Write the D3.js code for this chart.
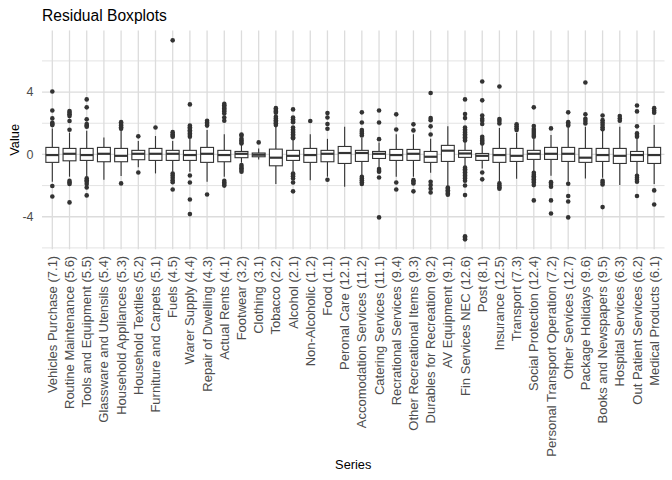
<!DOCTYPE html>
<html>
<head>
<meta charset="utf-8">
<script src="https://cdn.jsdelivr.net/npm/d3@7"></script>
<style>
  body { margin: 0; background: #fff; }
  svg { display: block; font-family: Arial, "Liberation Sans", sans-serif; }
</style>
</head>
<body>
<svg id="chart" width="672" height="480"></svg>
<script>
// series names (x axis)
const series = [
  "Vehicles Purchase (7.1)", "Routine Maintenance (5.6)", "Tools and Equipment (5.5)",
  "Glassware and Utensils (5.4)", "Household Appliances (5.3)", "Household Textiles (5.2)",
  "Furniture and Carpets (5.1)", "Fuels (4.5)", "Warer Supply (4.4)", "Repair of Dwelling (4.3)",
  "Actual Rents (4.1)", "Footwear (3.2)", "Clothing (3.1)", "Tobacco (2.2)", "Alcohol (2.1)",
  "Non-Alcoholic (1.2)", "Food (1.1)", "Peronal Care (12.1)", "Accomodation Services (11.2)",
  "Catering Services (11.1)", "Recrational Services (9.4)", "Other Recreational Items (9.3)",
  "Durables for Recreation (9.2)", "AV Equipment (9.1)", "Fin Services NEC (12.6)", "Post (8.1)",
  "Insurance (12.5)", "Transport (7.3)", "Social Protection (12.4)",
  "Personal Transport Operation (7.2)", "Other Services (12.7)", "Package Holidays (9.6)",
  "Books and Newspapers (9.5)", "Hospital Services (6.3)", "Out Patient Services (6.2)",
  "Medical Products (6.1)"
];

// box statistics, one value per series
const whiskerLow = [-1.75, -1.43, -1.43, -1.63, -1.39, -0.83, -1.22, -1.11, -1.11, -1.75,
  -1.43, -0.53, -0.32, -1.9, -1.11, -1.65, -1.43, -2.07, -1.37, -0.83, -1.43, -1.43,
  -1.18, -2.07, -0.79, -0.9, -1.82, -1.56, -1.11, -1.37, -1.75, -1.54, -1.5, -1.97, -1.26, -1.9];
const q1 = [-0.51, -0.41, -0.385, -0.47, -0.47, -0.34, -0.385, -0.385, -0.385, -0.51,
  -0.47, -0.21, -0.15, -0.73, -0.385, -0.51, -0.47, -0.58, -0.45, -0.26, -0.385, -0.385,
  -0.51, -0.45, -0.19, -0.385, -0.51, -0.45, -0.32, -0.32, -0.45, -0.51, -0.45, -0.58, -0.45, -0.58];
const median = [-0.04, 0.04, -0.04, 0.04, -0.09, 0.04, 0.04, 0.04, -0.04, 0.04,
  -0.04, 0.04, -0.02, -0.21, -0.09, -0.04, 0.04, 0.09, 0.09, 0.04, -0.04, 0.04,
  -0.15, 0.24, 0.06, -0.09, -0.04, -0.09, 0.04, 0.04, 0.04, -0.21, -0.04, -0.09, -0.04, -0.04];
const q3 = [0.45, 0.385, 0.385, 0.45, 0.385, 0.26, 0.385, 0.26, 0.26, 0.45,
  0.26, 0.19, 0.09, 0.34, 0.26, 0.385, 0.26, 0.51, 0.26, 0.19, 0.32, 0.32,
  0.19, 0.58, 0.26, 0.06, 0.385, 0.385, 0.26, 0.45, 0.45, 0.385, 0.385, 0.385, 0.19, 0.45];
const whiskerHigh = [1.67, 1.4, 1.52, 1.09, 1.56, 0.86, 1.18, 0.86, 1.0, 1.56,
  1.3, 0.64, 0.38, 1.78, 1.0, 1.3, 1.0, 1.78, 1.05, 0.77, 1.3, 1.3,
  1.0, 1.8, 0.81, 0.6, 1.69, 1.37, 1.0, 1.24, 1.71, 1.78, 1.52, 1.78, 1.03, 1.88];

// outliers per series
const outliers = [
  [4.04, 2.82, 2.31, 2.03, 1.95, 1.88, -2.03, -2.7],
  [2.78, 2.68, 2.58, 2.46, 2.14, 1.58, -1.7, -1.8, -1.9, -3.08],
  [3.53, 3.02, 2.25, 1.95, 1.85, 1.78, -1.54, -1.65, -1.75, -1.9, -2.12, -2.63],
  [],
  [2.07, 1.95, 1.85, 1.75, 1.65, -1.86],
  [1.16, -1.16],
  [1.73],
  [7.32, 1.43, 1.3, 1.2, 1.13, -1.22, -1.35, -1.5, -1.65, -1.78, -2.25],
  [3.21, 1.86, 1.75, 1.65, 1.55, 1.45, 1.35, 1.25, 1.13, -1.35, -1.8, -2.89, -3.83],
  [2.16, 2.05, 1.95, 1.85, -2.57],
  [3.25, 3.15, 3.05, 2.95, 2.85, 2.75, 2.63, 2.37, 2.16, -1.69, -1.8, -1.9, -2.0],
  [1.28, 1.2, 1.0, 0.9, 0.8, 0.7, -0.68, -0.8, -0.9, -1.0, -1.11],
  [0.77],
  [2.97, 2.85, 2.75, 2.67, 2.42, 2.3, 2.2, 2.1, 2.0, 1.88],
  [2.89, 2.37, 2.25, 2.15, 2.07, 1.73, 1.6, 1.5, 1.4, 1.3, 1.2, 1.1, 1.04, -1.22, -1.3, -1.4, -1.54, -1.8, -2.37],
  [2.14],
  [2.65, 2.37, 1.95, 1.65, -1.63],
  [],
  [2.7, 2.05, 1.56, 1.45, 1.35, 1.22, -1.43, -1.55, -1.65, -1.78, -1.9],
  [2.82, 2.05, 0.98, -0.94, -1.05, -1.11, -1.48, -4.04],
  [2.57, 1.6, -1.8, -2.25],
  [1.93, 1.54, -1.65, -1.75, -1.86, -2.37],
  [3.94, 2.33, 2.2, 1.8, 1.28, -1.75, -1.97, -2.2, -2.44],
  [-2.12, -2.2, -2.3, -2.4, -2.5, -2.59],
  [3.53, 2.59, 2.33, 1.73, 1.6, 1.5, 1.4, 1.3, 1.2, 1.1, 1.0, 0.9, -0.85, -0.95, -1.05, -1.15,
   -1.25, -1.35, -1.45, -1.55, -1.69, -1.99, -2.61, -5.25, -5.35, -5.45],
  [4.68, 3.47, 2.5, 2.29, 2.16, 1.95, 1.13, 1.0, 0.9, 0.8, 0.7, -1.16, -1.6],
  [4.36, 2.27, 2.15, 1.99, -1.86, -2.0, -2.1, -2.2],
  [1.93, 1.8, 1.68, 1.56],
  [3.02, 1.82, 1.63, 1.5, 1.38, 1.25, 1.13, -1.18, -1.3, -1.4, -1.5, -1.6, -1.7, -1.8, -1.97, -2.95],
  [1.67, -1.78, -1.9, -2.07, -2.95, -3.79],
  [2.7, 2.07, 1.95, 1.85, -1.88, -2.67, -3.02, -4.04],
  [4.62, 2.57, 2.29, 2.15, 1.99],
  [2.5, 2.2, 2.05, 1.9, 1.75, 1.62, -1.69, -1.8, -1.93, -3.38],
  [2.46, 2.3, 2.16],
  [3.14, 2.76, 1.8, 1.35, 1.25, 1.13, -1.37, -1.5, -1.62, -1.75, -2.67],
  [2.97, 2.8, 2.67, -2.31, -3.21]
];

const yTicks = [-4, 0, 4];
const yMinor = [-6, -2, 2, 6];

// 画布
const svg = d3.select("#chart");
const W = 672, H = 480;
const margin = { top: 30.4, right: 7.5, bottom: 230.7, left: 42 };
const pw = W - margin.left - margin.right;
const ph = H - margin.top - margin.bottom;

// boxes from arrays
const boxes = series.map((s, i) => ({
  name: s, lo: whiskerLow[i], q1: q1[i], med: median[i], q3: q3[i], hi: whiskerHigh[i], out: outliers[i]
}));

// y extent with ggplot-like 5% padding
const allVals = d3.merge(boxes.map(b => [b.lo, b.hi].concat(b.out)));
const ext = d3.extent(allVals);
const pad = (ext[1] - ext[0]) * 0.05;
const y = d3.scaleLinear().domain([ext[0] - pad, ext[1] + pad]).range([ph, 0]);

// discrete x, 0.6 band expansion each side
const x = d3.scalePoint().domain(series).range([0, pw]).padding(0.6);
const step = x.step();
const bw = step * 0.75;

const g = svg.append("g").attr("transform", `translate(${margin.left},${margin.top})`);

// grid
g.selectAll(".minor").data(yMinor).join("line")
  .attr("x1", 0).attr("x2", pw)
  .attr("y1", d => y(d)).attr("y2", d => y(d))
  .attr("stroke", "#e3e3e3").attr("stroke-width", 1);
g.selectAll(".major").data(yTicks).join("line")
  .attr("x1", 0).attr("x2", pw)
  .attr("y1", d => y(d)).attr("y2", d => y(d))
  .attr("stroke", "#dcdcdc").attr("stroke-width", 1.3);
g.selectAll(".vgrid").data(series).join("line")
  .attr("x1", d => x(d)).attr("x2", d => x(d))
  .attr("y1", 0).attr("y2", ph)
  .attr("stroke", "#dcdcdc").attr("stroke-width", 1.3);

// 箱线图
const col = "#333333";
const bx = g.selectAll(".box").data(boxes).join("g")
  .attr("transform", d => `translate(${x(d.name)},0)`);

bx.append("line")
  .attr("y1", d => y(d.q3)).attr("y2", d => y(d.hi))
  .attr("stroke", col).attr("stroke-width", 1.1);
bx.append("line")
  .attr("y1", d => y(d.q1)).attr("y2", d => y(d.lo))
  .attr("stroke", col).attr("stroke-width", 1.1);
bx.append("rect")
  .attr("x", -bw / 2).attr("width", bw)
  .attr("y", d => y(d.q3)).attr("height", d => y(d.q1) - y(d.q3))
  .attr("fill", "white").attr("stroke", col).attr("stroke-width", 1.1);
bx.append("line")
  .attr("x1", -bw / 2).attr("x2", bw / 2)
  .attr("y1", d => y(d.med)).attr("y2", d => y(d.med))
  .attr("stroke", col).attr("stroke-width", 2.2);
bx.selectAll("circle").data(d => d.out).join("circle")
  .attr("cy", d => y(d)).attr("r", 2.3)
  .attr("fill", col);

// y axis labels
g.selectAll(".ylab").data(yTicks).join("text")
  .attr("x", -8.5).attr("y", d => y(d)).attr("dy", "0.35em")
  .attr("text-anchor", "end").attr("font-size", 12.5).attr("fill", "#4d4d4d")
  .text(d => d);

// x axis labels (rotated)
g.selectAll(".xlab").data(series).join("text")
  .attr("transform", d => `translate(${x(d)},${ph + 6.5}) rotate(-90)`)
  .attr("dy", "0.35em")
  .attr("text-anchor", "end").attr("font-size", 13).attr("fill", "#4d4d4d")
  .text(d => d);

// titles
svg.append("text").attr("x", margin.left).attr("y", 21)
  .attr("font-size", 15.6).attr("fill", "black").text("Residual Boxplots");
svg.append("text").attr("x", margin.left + pw / 2).attr("y", 469)
  .attr("text-anchor", "middle").attr("font-size", 12.8).attr("fill", "black").text("Series");
svg.append("text")
  .attr("transform", `translate(19,${margin.top + ph / 2}) rotate(-90)`)
  .attr("text-anchor", "middle").attr("font-size", 12.8).attr("fill", "black").text("Value");
</script>
</body>
</html>
